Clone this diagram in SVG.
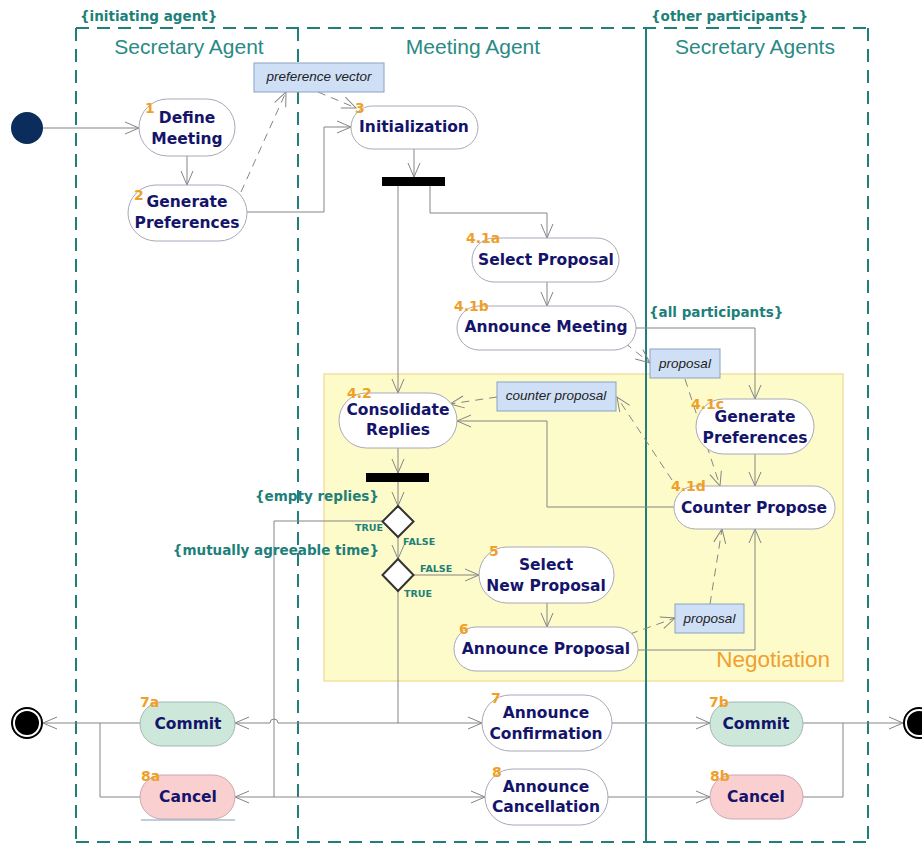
<svg xmlns="http://www.w3.org/2000/svg" width="922" height="844" viewBox="0 0 922 844">
<style>
.lane{fill:none;stroke:#217f7a;stroke-width:2;stroke-dasharray:13 8}
.lanes{fill:none;stroke:#217f7a;stroke-width:2}
.lt{font-family:"Liberation Sans",Arial,sans-serif;font-size:21px;fill:#2a8a85;text-anchor:middle}
.tag{font-family:"DejaVu Sans",Verdana,sans-serif;font-weight:bold;font-size:13.5px;fill:#217f7a}
.tf{font-family:"DejaVu Sans",Verdana,sans-serif;font-weight:bold;font-size:9.5px;fill:#217f7a}
.act{fill:#fff;stroke:#a8a8b8;stroke-width:1}
.cm{fill:#cde8da;stroke:#a0b8b0;stroke-width:1}
.cn{fill:#f9cfd0;stroke:#c8a8b0;stroke-width:1}
.lb{font-family:"DejaVu Sans",Verdana,sans-serif;font-weight:bold;font-size:15.5px;fill:#14146a;text-anchor:middle}
.nm{font-family:"DejaVu Sans",Verdana,sans-serif;font-weight:bold;font-size:14px;fill:#f0a028}
.obj{fill:#cfe0f6;stroke:#8aa2c0;stroke-width:1}
.ot{font-family:"Liberation Sans",Arial,sans-serif;font-style:italic;font-size:13.5px;fill:#222;text-anchor:middle}
.c{fill:none;stroke:#858585;stroke-width:1}
.m{marker-end:url(#a)}
.d{stroke-dasharray:8 6}
.dia{fill:#fff;stroke:#333;stroke-width:2}
</style>
<defs>
<marker id="a" markerWidth="16" markerHeight="14" refX="14" refY="6" orient="auto" markerUnits="userSpaceOnUse" overflow="visible"><path d="M0,0 L14,6 L0,12" fill="none" stroke="#858585" stroke-width="1"/></marker>
</defs>
<rect width="922" height="844" fill="#fff"/>
<g id="negotiation-region">
<rect x="324" y="374" width="519" height="307" fill="#fdfbc9" stroke="#f3dfa0" stroke-width="1.5"/>
<text x="830" y="667" font-family="Liberation Sans,Arial,sans-serif" font-size="22.5" fill="#f0a030" text-anchor="end">Negotiation</text>
</g>
<g id="swimlanes">
<path class="lane" d="M76,28 H868"/>
<path class="lane" d="M76,28 V843"/>
<path class="lane" d="M868,28 V843"/>
<path class="lane" d="M76,842 H868"/>
<path class="lane" d="M298,28 V843"/>
<path class="lanes" d="M646,28 V843"/>
<text class="tag" x="80" y="21">{initiating agent}</text>
<text class="tag" x="651" y="21">{other participants}</text>
<text class="lt" x="189" y="54">Secretary Agent</text>
<text class="lt" x="473" y="54">Meeting Agent</text>
<text class="lt" x="755" y="54">Secretary Agents</text>
</g>
<g id="connectors">
<path class="c m" d="M43,128 H139"/>
<path class="c m" d="M187,156 V185"/>
<path class="c d m" d="M241,192 L286,92"/>
<path class="c d m" d="M318,92 L356,108"/>
<path class="c m" d="M247,212 H324 V127 H351"/>
<path class="c m" d="M414,149 V177"/>
<path class="c m" d="M398,186 V393"/>
<path class="c m" d="M430,186 V213 H547 V238"/>
<path class="c m" d="M547,282 V306"/>
<path class="c m" d="M636,328 H755 V399"/>
<path class="c d m" d="M625,343 L650,363"/>
<path class="c d m" d="M685,379 L720,486"/>
<path class="c m" d="M755,454 V486"/>
<path class="c d m" d="M672,480 L617,397"/>
<path class="c d m" d="M497,397 L450,404"/>
<path class="c m" d="M674,507 H547 V421 H457"/>
<path class="c m" d="M398,448 V473"/>
<path class="c m" d="M398,482 V506"/>
<path class="c" d="M382,521 H274 V797"/>
<path class="c m" d="M274,797 H235"/>
<path class="c m" d="M274,797 H485"/>
<path class="c m" d="M398,537 V559"/>
<path class="c m" d="M413,575 H479"/>
<path class="c m" d="M547,603 V627"/>
<path class="c m" d="M638,650 H755 V529"/>
<path class="c d m" d="M630,634 L675,618"/>
<path class="c d m" d="M710,604 L722,529"/>
<path class="c" d="M398,591 V723"/>
<path class="c m" d="M398,723 H278 A4,4 0 0 0 270,723 H235"/>
<path class="c m" d="M398,723 H482"/>
<path class="c m" d="M612,723 H710"/>
<path class="c m" d="M608,797 H710"/>
<path class="c m" d="M803,723 H903"/>
<path class="c" d="M803,797 H843 V723"/>
<path class="c m" d="M140,723 H43"/>
<path class="c" d="M140,797 H100 V723"/>
</g>
<g id="start"><circle cx="27" cy="128" r="16" fill="#0b2d5b"/></g>
<g id="n1"><rect class="act" x="139" y="99" width="96" height="57" rx="28.5"/><text class="nm" x="145" y="113">1</text><text class="lb" x="187" y="123">Define</text><text class="lb" x="187" y="144">Meeting</text></g>
<g id="n2"><rect class="act" x="128" y="185" width="119" height="56" rx="28"/><text class="nm" x="134" y="200">2</text><text class="lb" x="187" y="207">Generate</text><text class="lb" x="187" y="228">Preferences</text></g>
<g id="obj-preference-vector"><rect class="obj" x="254" y="63" width="130" height="29"/><text class="ot" x="319" y="81">preference vector</text></g>
<g id="n3"><rect class="act" x="351" y="106" width="127" height="43" rx="21.5"/><text class="nm" x="355" y="113">3</text><text class="lb" x="414" y="132">Initialization</text></g>
<g id="fork1"><rect x="382" y="177" width="63" height="9" fill="#000"/></g>
<g id="n41a"><rect class="act" x="472" y="238" width="147" height="44" rx="22"/><text class="nm" x="466" y="243">4.1a</text><text class="lb" x="546" y="265">Select Proposal</text></g>
<g id="n41b"><rect class="act" x="457" y="306" width="179" height="44" rx="22"/><text class="nm" x="454" y="311">4.1b</text><text class="lb" x="546" y="332">Announce Meeting</text></g>
<g id="tag-all"><text class="tag" x="649" y="317">{all participants}</text></g>
<g id="obj-proposal-1"><rect class="obj" x="650" y="349" width="70" height="29"/><text class="ot" x="685" y="368">proposal</text></g>
<g id="obj-counter-proposal"><rect class="obj" x="497" y="382" width="119" height="29"/><text class="ot" x="556" y="400">counter proposal</text></g>
<g id="n42"><rect class="act" x="339" y="393" width="118" height="55" rx="27.5"/><text class="nm" x="347" y="398">4.2</text><text class="lb" x="398" y="415">Consolidate</text><text class="lb" x="398" y="435">Replies</text></g>
<g id="n41c"><rect class="act" x="696" y="399" width="118" height="55" rx="27.5"/><text class="nm" x="691" y="409">4.1c</text><text class="lb" x="755" y="422">Generate</text><text class="lb" x="755" y="443">Preferences</text></g>
<g id="n41d"><rect class="act" x="674" y="486" width="161" height="43" rx="21.5"/><text class="nm" x="671" y="491">4.1d</text><text class="lb" x="754" y="513">Counter Propose</text></g>
<g id="fork2"><rect x="366" y="473" width="63" height="9" fill="#000"/></g>
<g id="tag-empty"><text class="tag" x="379" y="501" text-anchor="end">{empty replies}</text></g>
<g id="decision1"><path class="dia" d="M398,506 L413.5,521.5 L398,537 L382.5,521.5 Z"/><text class="tf" x="355" y="531">TRUE</text><text class="tf" x="403" y="545">FALSE</text></g>
<g id="tag-mutual"><text class="tag" x="379" y="555" text-anchor="end">{mutually agreeable time}</text></g>
<g id="decision2"><path class="dia" d="M398,559 L413.5,575 L398,591 L382.5,575 Z"/><text class="tf" x="420" y="572">FALSE</text><text class="tf" x="404" y="597">TRUE</text></g>
<g id="n5"><rect class="act" x="479" y="547" width="135" height="56" rx="28"/><text class="nm" x="489" y="556">5</text><text class="lb" x="546" y="570">Select</text><text class="lb" x="546" y="591">New Proposal</text></g>
<g id="n6"><rect class="act" x="454" y="627" width="184" height="44" rx="22"/><text class="nm" x="459" y="634">6</text><text class="lb" x="546" y="654">Announce Proposal</text></g>
<g id="obj-proposal-2"><rect class="obj" x="675" y="604" width="69" height="29"/><text class="ot" x="709.5" y="623">proposal</text></g>
<g id="end-left"><circle cx="27" cy="723" r="15" fill="#fff" stroke="#000" stroke-width="2"/><circle cx="27" cy="723" r="12" fill="#000"/></g>
<g id="n7a"><rect class="cm" x="140" y="702" width="95" height="44" rx="22"/><text class="nm" x="140" y="707">7a</text><text class="lb" x="188" y="729">Commit</text></g>
<g id="n8a"><rect class="cn" x="140" y="775" width="95" height="44" rx="22"/><line x1="141" y1="820" x2="235" y2="820" stroke="#7b9fb5" stroke-width="1"/><text class="nm" x="141" y="781">8a</text><text class="lb" x="188" y="802">Cancel</text></g>
<g id="n7"><rect class="act" x="482" y="695" width="130" height="56" rx="28"/><text class="nm" x="491" y="703">7</text><text class="lb" x="546" y="718">Announce</text><text class="lb" x="546" y="739">Confirmation</text></g>
<g id="n8"><rect class="act" x="485" y="769" width="123" height="56" rx="28"/><text class="nm" x="492" y="777">8</text><text class="lb" x="546" y="792">Announce</text><text class="lb" x="546" y="812">Cancellation</text></g>
<g id="n7b"><rect class="cm" x="710" y="702" width="93" height="44" rx="22"/><text class="nm" x="709" y="707">7b</text><text class="lb" x="756" y="729">Commit</text></g>
<g id="n8b"><rect class="cn" x="710" y="775" width="93" height="44" rx="22"/><text class="nm" x="710" y="781">8b</text><text class="lb" x="756" y="802">Cancel</text></g>
<g id="end-right"><circle cx="919" cy="723" r="15" fill="#fff" stroke="#000" stroke-width="2"/><circle cx="919" cy="723" r="12" fill="#000"/></g>
</svg>
